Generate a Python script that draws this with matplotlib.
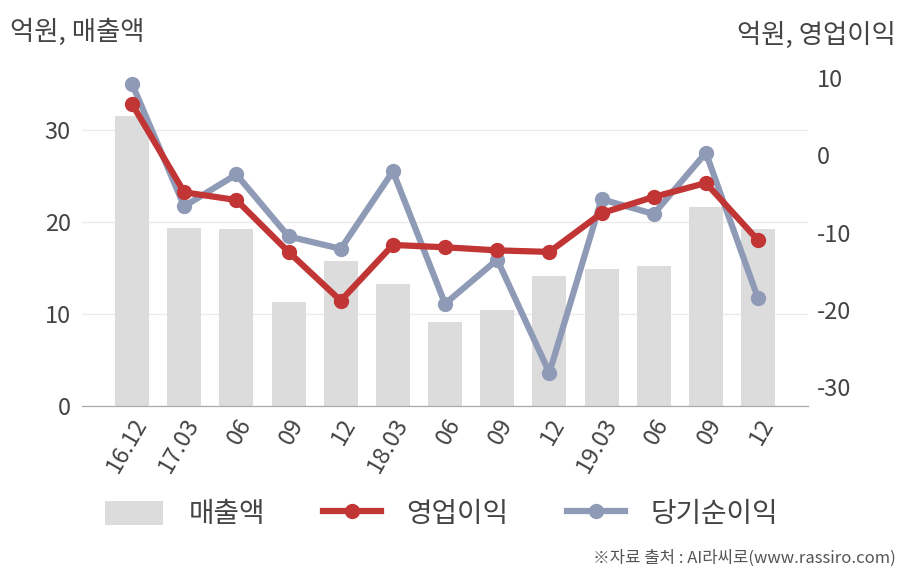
import matplotlib.pyplot as plt
import numpy as np
from matplotlib.patches import Patch
from matplotlib.lines import Line2D

plt.rcParams['font.family'] = ['Noto Sans CJK KR', 'DejaVu Sans']
plt.rcParams['axes.unicode_minus'] = False

# 분기
labels = ['16.12', '17.03', '06', '09', '12', '18.03', '06', '09', '12',
          '19.03', '06', '09', '12']
# 매출액 (억원)
sales = [31.5, 19.3, 19.2, 11.3, 15.7, 13.2, 9.1, 10.4, 14.1, 14.9, 15.2, 21.6, 19.2]
# 영업이익 (억원)
op_profit = [6.6, -4.8, -5.8, -12.5, -18.8, -11.6, -11.9, -12.3, -12.5,
             -7.5, -5.4, -3.6, -11.0]
# 당기순이익 (억원)
net_profit = [9.2, -6.6, -2.5, -10.5, -12.1, -2.1, -19.2, -13.5, -28.1,
              -5.7, -7.6, 0.3, -18.5]

bar_color = '#dcdcdc'
red = '#c23535'
blue = '#8f9bb6'
text_color = '#444444'

x = np.arange(len(labels))

fig = plt.figure(figsize=(9.08, 5.8), dpi=100)
ax = fig.add_axes([0.0903, 0.30, 0.7997, 0.6034])
ax2 = ax.twinx()

ax.bar(x, sales, 0.65, color=bar_color, zorder=2)
ax.set_ylim(0, 38)
ax.set_xlim(-0.96, 12.96)
ax.set_yticks([0, 10, 20, 30])
ax.grid(axis='y', color='#ebebeb', linewidth=1, zorder=0)
ax.set_axisbelow(True)

ax2.plot(x, net_profit, color=blue, linewidth=4.5, marker='o', markersize=10, zorder=3)
ax2.plot(x, op_profit, color=red, linewidth=4.5, marker='o', markersize=10, zorder=4)
ax2.set_ylim(-32.4, 12.8)
ax2.set_yticks([-30, -20, -10, 0, 10])

for a in (ax, ax2):
    for s in ['top', 'left', 'right']:
        a.spines[s].set_visible(False)
    a.spines['bottom'].set_color('#aaaaaa')
    a.tick_params(length=0, labelsize=17, labelcolor=text_color)

ax.tick_params(axis='y', pad=8)
ax2.tick_params(axis='y', pad=6)
ax.set_xticks(x)
ax.set_xticklabels(labels, rotation=60, ha='right', rotation_mode='anchor')
ax.tick_params(axis='x', pad=6)

fig.text(0.011, 0.945, '억원, 매출액', fontsize=19, color=text_color, va='center', ha='left')
fig.text(0.987, 0.94, '억원, 영업이익', fontsize=19, color=text_color, va='center', ha='right')

handles = [Patch(facecolor=bar_color),
           Line2D([0], [0], color=red, linewidth=4.5, marker='o', markersize=10),
           Line2D([0], [0], color=blue, linewidth=4.5, marker='o', markersize=10)]
fig.legend(handles, ['매출액', '영업이익', '당기순이익'], loc='center',
           bbox_to_anchor=(0.486, 0.113), ncol=3, frameon=False, fontsize=20,
           handlelength=2.1, handleheight=1.0, columnspacing=2.1, handletextpad=0.9,
           labelcolor=text_color)

fig.text(0.986, 0.022, '※자료 출처 : AI라씨로(www.rassiro.com)', fontsize=12,
         color='#555555', ha='right', va='bottom')

fig.savefig('out.png', dpi=100)
